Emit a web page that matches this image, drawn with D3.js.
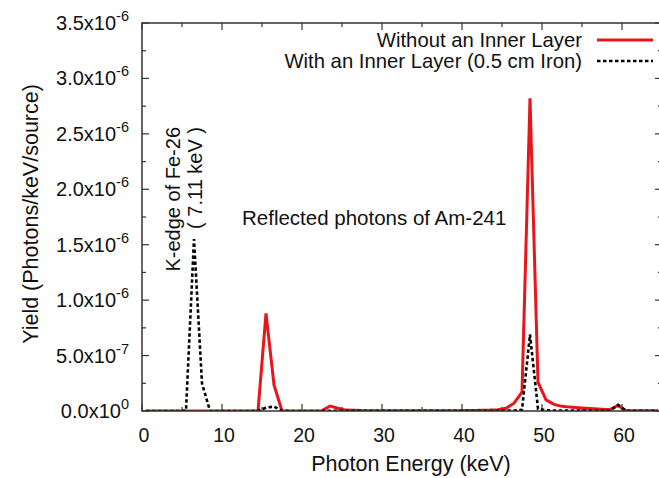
<!DOCTYPE html>
<html><head><meta charset="utf-8">
<script src="https://cdn.jsdelivr.net/npm/d3@7"></script>
<style>
body{margin:0;background:#fff;}
svg{display:block;font-family:"Liberation Sans",Arial,Helvetica,sans-serif;}
</style></head>
<body>
<svg id="c" width="659" height="478"></svg>
<script>
// Photon energy bin centres (keV)
const energy = [0.5,1.5,2.5,3.5,4.5,5.5,6.5,7.5,8.5,9.5,10.5,11.5,12.5,13.5,14.5,15.5,16.5,17.5,18.5,19.5,
  20.5,21.5,22.5,23.5,24.5,25.5,26.5,27.5,28.5,29.5,30.5,31.5,32.5,33.5,34.5,35.5,36.5,37.5,38.5,39.5,
  40.5,41.5,42.5,43.5,44.5,45.5,46.5,47.5,48.5,49.5,50.5,51.5,52.5,53.5,54.5,55.5,56.5,57.5,58.5,59.5,
  60.5,61.5,62.5,63.5,64.5];
// Yield, units of 1e-6 photons/keV/source
const withoutLayer = [0,0,0,0,0,0,0,0,0,0,0,0,0,0,0,0.88,0.235,0,0,0,
  0,0,0.003,0.045,0.025,0.008,0.007,0.004,0.003,0.003,0.003,0.003,0.003,0.003,0.003,0.003,0.003,0.003,0.003,0.003,
  0.004,0.005,0.006,0.008,0.012,0.025,0.07,0.17,2.82,0.26,0.10,0.06,0.042,0.035,0.03,0.025,0.02,0.016,0.012,0.05,
  0.002,0.002,0.002,0.002,0.002];
const withLayer = [0,0,0,0,0,0.003,1.55,0.25,0,0,0,0,0,0,0.002,0.03,0.04,0.002,0,0,
  0,0,0,0.002,0.002,0.002,0.002,0.002,0.002,0.002,0.002,0.002,0.002,0.002,0.002,0.002,0.002,0.002,0.002,0.002,
  0.002,0.002,0.002,0.002,0.002,0.003,0.004,0.01,0.69,0.02,0.006,0.005,0.005,0.004,0.004,0.004,0.004,0.004,0.004,0.055,
  0.002,0.002,0.002,0.002,0.002];
const xTickLabels = [0,10,20,30,40,50,60];
const yTickMant = ["0.0","5.0","1.0","1.5","2.0","2.5","3.0","3.5"];
const yTickExp = ["0","-7","-6","-6","-6","-6","-6","-6"];
const yTickValues = [0,0.5,1.0,1.5,2.0,2.5,3.0,3.5];
const seriesNames = ["Without an Inner Layer","With an Inner Layer (0.5 cm Iron)"];

const svg = d3.select("#c");
const L=142, R=662, T=23, B=411;
const x = d3.scaleLinear().domain([0,65]).range([L,R]);
const y = d3.scaleLinear().domain([0,3.5]).range([B,T]);

svg.append("defs").append("clipPath").attr("id","pc").append("rect")
  .attr("x",L).attr("y",T-5).attr("width",R-L).attr("height",B-T+5);

const axisCol="#333";
// ticks (inward, mirrored)
const xt = d3.range(0,66,5);
xt.forEach(v=>{
  const len = v%10===0?7:4;
  svg.append("line").attr("x1",x(v)).attr("x2",x(v)).attr("y1",B).attr("y2",B-len).attr("stroke",axisCol).attr("stroke-width",1.2);
  svg.append("line").attr("x1",x(v)).attr("x2",x(v)).attr("y1",T).attr("y2",T+len).attr("stroke",axisCol).attr("stroke-width",1.2);
});
const ytm = d3.range(0,3.51,0.25);
ytm.forEach(v=>{
  const len = (Math.round(v*4)%2===0)?7:4;
  svg.append("line").attr("x1",L).attr("x2",L+len).attr("y1",y(v)).attr("y2",y(v)).attr("stroke",axisCol).attr("stroke-width",1.2);
  svg.append("line").attr("x1",R).attr("x2",R-len).attr("y1",y(v)).attr("y2",y(v)).attr("stroke",axisCol).attr("stroke-width",1.2);
});

// x tick labels
svg.append("g").selectAll("text").data(xTickLabels).join("text")
  .attr("x",d=>x(d)+2).attr("y",B+31).attr("text-anchor","middle")
  .attr("font-size",19.5).attr("fill","#111").text(d=>d);

// y tick labels
const yl = svg.append("g").selectAll("text").data(yTickValues).join("text")
  .attr("x",129).attr("y",(d)=>y(d)+7).attr("text-anchor","end").attr("font-size",20).attr("fill","#111");
yl.each(function(d,i){
  const t=d3.select(this);
  t.append("tspan").text(yTickMant[i]+"x10");
  t.append("tspan").attr("dy",-9).attr("font-size",14.5).text(yTickExp[i]);
});

// lines
const line = d3.line().x((d,i)=>x(energy[i])).y(d=>y(d));
const pg = svg.append("g").attr("clip-path","url(#pc)");
pg.append("path").datum(withoutLayer).attr("d",line).attr("fill","none")
  .attr("stroke","#e8161b").attr("stroke-width",3).attr("stroke-linejoin","miter");
pg.append("path").datum(withLayer).attr("d",line).attr("fill","none")
  .attr("stroke","#000").attr("stroke-width",2.6).attr("stroke-dasharray","3.5,2.5");

// frame
svg.append("rect").attr("x",L).attr("y",T).attr("width",R-L).attr("height",B-T)
  .attr("fill","none").attr("stroke",axisCol).attr("stroke-width",1.5);

// axis titles
svg.append("text").attr("x",411).attr("y",471).attr("text-anchor","middle")
  .attr("font-size",21.5).attr("fill","#111").text("Photon Energy (keV)");
svg.append("text").attr("transform","translate(38,214) rotate(-90)").attr("text-anchor","middle")
  .attr("font-size",21.5).attr("fill","#111").text("Yield (Photons/keV/source)");

// legend
const lg = svg.append("g");
lg.append("text").attr("x",582).attr("y",47).attr("text-anchor","end").attr("font-size",20.3).attr("fill","#111").text(seriesNames[0]);
lg.append("line").attr("x1",597).attr("x2",653).attr("y1",40).attr("y2",40).attr("stroke","#e8161b").attr("stroke-width",3);
lg.append("text").attr("x",582).attr("y",68).attr("text-anchor","end").attr("font-size",20.3).attr("fill","#111").text(seriesNames[1]);
lg.append("line").attr("x1",597).attr("x2",653).attr("y1",61).attr("y2",61).attr("stroke","#000").attr("stroke-width",2.6).attr("stroke-dasharray","3.5,2.5");

// annotations
svg.append("text").attr("x",242).attr("y",225).attr("font-size",20.5).attr("fill","#111").text("Reflected photons of Am-241");
svg.append("text").attr("transform","translate(180,127) rotate(-90)").attr("text-anchor","end")
  .attr("font-size",20).attr("fill","#111").text("K-edge of Fe-26");
svg.append("text").attr("transform","translate(202,127) rotate(-90)").attr("text-anchor","end")
  .attr("font-size",20).attr("fill","#111").text("( 7.11 keV )");
</script>
</body></html>
